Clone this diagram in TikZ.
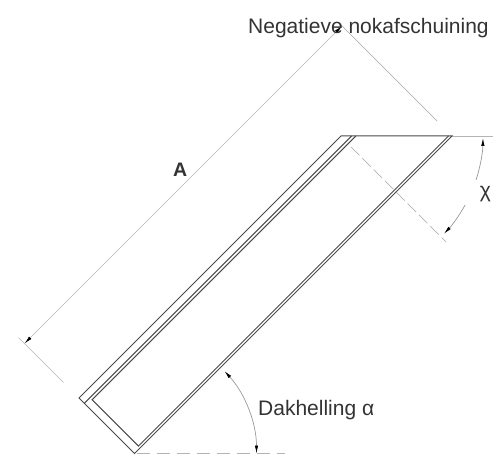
\documentclass[tikz,border=0pt]{standalone}
\usepackage{fontspec}
\setmainfont{Liberation Sans}
\usetikzlibrary{arrows.meta}
\definecolor{frame}{HTML}{4A4A4A}
\definecolor{dimgray}{HTML}{B4B4B4}
\definecolor{arcgray}{HTML}{999999}
\definecolor{txt}{HTML}{333333}
\begin{document}
\begin{tikzpicture}[x=1pt,y=-1pt,
  frameline/.style={draw=frame,line width=1pt,line join=miter},
  dimline/.style={draw=dimgray,line width=0.7pt},
  arcline/.style={draw=arcgray,line width=0.7pt},
  dashline/.style={draw=dimgray,line width=0.7pt,dash pattern=on 12pt off 4pt},
  blacktip/.tip={Latex[length=8pt,width=3.4pt,color=black]},
  lbl/.style={text=txt,inner sep=0pt,font=\fontsize{21}{21}\selectfont}
]
\useasboundingbox (0,0) rectangle (494,454);

% panel corners
\coordinate (P1) at (79,398);
\coordinate (P2) at (134.5,453.5);
\coordinate (P3) at (452,136);
\coordinate (P4) at (341,136);
% inner strokes
\coordinate (A1) at (84.3,403.3);
\coordinate (A2) at (351.6,136);
\coordinate (B1) at (92.05,399.75);
\coordinate (B2) at (355.8,136);
\coordinate (R1) at (138.4,446.1);
\coordinate (R2) at (448.5,136);

% dimension / helper coordinates
\coordinate (E1) at (493,136);
\coordinate (D1) at (24.5,343.5);
\coordinate (D2) at (342,26);
\coordinate (X1) at (18.5,337.5);
\coordinate (X2) at (63.5,382.5);
\coordinate (Y1) at (339.5,23.5);
\coordinate (Y2) at (437,121);
\coordinate (C1) at (351,147);
\coordinate (C2) at (446,242);
\coordinate (H1) at (137,453.5);
\coordinate (H2) at (285,453.5);

% helper lines
\draw[dimline] (P3) -- (E1);
\draw[dimline] (X1) -- (X2);
\draw[dimline] (Y1) -- (Y2);
\draw[dimline,blacktip-blacktip] (D1) -- (D2);
\draw[dashline] (C1) -- (C2);
\draw[dimline,dash pattern=on 13pt off 7pt] (H1) -- (H2);

% chi arc (centre P4)
\draw[arcline,blacktip-] ([shift={(0.8:142)}]P4) arc[start angle=0.8,end angle=18,radius=142];
\draw[arcline,-blacktip] ([shift={(29:142)}]P4) arc[start angle=29,end angle=43.5,radius=142];

% alpha arc (centre P2)
\draw[arcline,blacktip-blacktip] ([shift={(0:122)}]P2) arc[start angle=0,end angle=-42.5,radius=122];

% panel
\draw[frameline] (P1) -- (P2) -- (P3) -- (P4) -- cycle;
\draw[frameline] (A1) -- (A2);
\draw[frameline] (B2) -- (B1) -- (R1) -- (R2);

% labels
\node[lbl,anchor=base west] (neg) at (248,33.3) {Negatieve nokafschuining};
\node[lbl,font=\bfseries\fontsize{19.5}{19.5}\selectfont,anchor=south west] (alab) at (173,177) {A};
\node[lbl,anchor=center] (chi) at (485.5,194) {χ};
\node[lbl,anchor=base west] (dak) at (258,415) {Dakhelling α};
\end{tikzpicture}
\end{document}
